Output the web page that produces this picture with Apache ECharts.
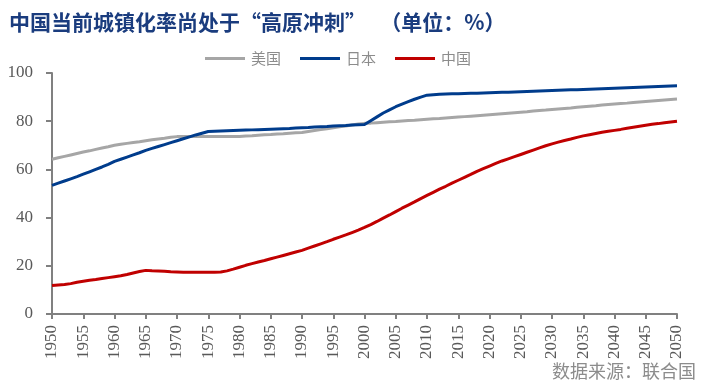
<!DOCTYPE html>
<html>
<head>
<meta charset="utf-8">
<script src="https://cdn.jsdelivr.net/npm/echarts@6/dist/echarts.min.js"></script>
<style>
html,body{margin:0;padding:0;background:#fff;}
#chart{width:701px;height:388px;}
</style>
</head>
<body>
<div id="chart"></div>
<script>
// Years 1950..2050
var years = [];
for (var yr = 1950; yr <= 2050; yr++) years.push(yr);

var usa = [
64.2,64.8,65.4,66.0,66.6,67.2,67.7,68.3,68.9,69.4,
70.0,70.4,70.8,71.2,71.5,71.9,72.3,72.6,72.9,73.3,
73.6,73.6,73.6,73.6,73.7,73.7,73.7,73.7,73.7,73.7,
73.7,73.9,74.0,74.2,74.4,74.5,74.7,74.8,75.0,75.2,
75.3,75.7,76.1,76.5,76.9,77.3,77.7,78.0,78.4,78.8,
79.1,79.2,79.4,79.6,79.8,79.9,80.1,80.3,80.4,80.6,
80.8,81.0,81.1,81.3,81.5,81.7,81.9,82.1,82.3,82.5,
82.7,82.9,83.1,83.3,83.5,83.7,83.9,84.2,84.4,84.6,
84.9,85.1,85.3,85.5,85.8,86.0,86.2,86.4,86.7,86.9,
87.1,87.3,87.5,87.8,88.0,88.2,88.4,88.6,88.8,89.0,
89.2
];

var japan = [
53.4,54.3,55.2,56.1,57.0,58.0,59.0,60.0,61.0,62.1,
63.3,64.2,65.1,66.0,66.9,67.9,68.7,69.5,70.3,71.1,
71.9,72.7,73.5,74.3,75.0,75.7,75.8,75.9,76.0,76.1,
76.2,76.3,76.4,76.5,76.6,76.7,76.8,76.9,77.0,77.2,
77.3,77.4,77.6,77.7,77.8,78.0,78.1,78.2,78.4,78.5,
78.6,80.2,81.8,83.4,84.7,86.0,87.1,88.1,89.1,90.0,
90.8,91.0,91.2,91.3,91.4,91.4,91.5,91.6,91.6,91.7,
91.8,91.9,92.0,92.0,92.1,92.2,92.3,92.4,92.5,92.6,
92.7,92.8,92.9,93.0,93.1,93.2,93.3,93.4,93.5,93.6,
93.7,93.8,93.9,94.0,94.1,94.2,94.3,94.4,94.5,94.6,
94.7
];

var china = [
11.8,12.0,12.2,12.6,13.2,13.6,14.0,14.3,14.7,15.1,
15.5,15.9,16.4,17.0,17.6,18.1,17.9,17.8,17.7,17.5,
17.4,17.3,17.3,17.3,17.3,17.3,17.3,17.4,17.9,18.6,
19.4,20.2,20.9,21.6,22.2,22.9,23.6,24.3,25.0,25.7,
26.4,27.3,28.2,29.1,30.0,31.0,31.9,32.8,33.8,34.8,
35.9,37.1,38.4,39.8,41.1,42.5,43.9,45.2,46.5,47.9,
49.2,50.5,51.8,53.0,54.3,55.5,56.7,57.9,59.2,60.3,
61.4,62.5,63.5,64.4,65.3,66.2,67.1,68.0,68.9,69.8,
70.6,71.3,72.0,72.6,73.3,73.9,74.4,74.9,75.4,75.8,
76.2,76.6,77.1,77.5,77.9,78.3,78.7,79.0,79.4,79.7,
80.0
];

var seriesNames = ['美国', '日本', '中国'];
var titleText = '中国当前城镇化率尚处于“高原冲刺”   （单位：%）';
var sourceText = '数据来源：联合国';

function pairs(vals) {
  return years.map(function (y, i) { return [y, vals[i]]; });
}

var cjk = '"Noto Sans CJK SC", sans-serif';
var serif = '"Liberation Serif", "DejaVu Serif", serif';
var axisColor = '#808080';
var labelColor = '#595959';

var chart = echarts.init(document.getElementById('chart'), null, {renderer: 'canvas'});
chart.setOption({
  backgroundColor: '#ffffff',
  animation: false,
  title: {
    text: titleText,
    left: 9,
    top: 12,
    padding: 0,
    textStyle: {fontFamily: cjk, fontSize: 21, fontWeight: 'bold', color: '#1a3c7e'}
  },
  legend: {
    data: seriesNames,
    left: 205,
    top: 51,
    padding: 0,
    icon: 'rect',
    itemWidth: 40,
    itemHeight: 3,
    itemGap: 19,
    textStyle: {fontFamily: cjk, fontSize: 15, color: '#8c8c8c', padding: [0, 0, 0, 1]}
  },
  grid: {left: 52, right: 24, top: 73, bottom: 74, containLabel: false},
  xAxis: {
    type: 'value',
    min: 1950,
    max: 2050,
    interval: 5,
    splitLine: {show: false},
    axisLine: {show: true, lineStyle: {color: axisColor, width: 2}},
    axisTick: {show: true, inside: false, length: 5, lineStyle: {color: axisColor, width: 2}},
    axisLabel: {rotate: 90, margin: 11, fontFamily: serif, fontSize: 17, color: labelColor,
      formatter: function (v) { return String(v); }}
  },
  yAxis: {
    type: 'value',
    min: 0,
    max: 100,
    interval: 20,
    splitLine: {show: false},
    axisLine: {show: true, lineStyle: {color: axisColor, width: 2}},
    axisTick: {show: true, inside: false, length: 6, lineStyle: {color: axisColor, width: 2}},
    axisLabel: {margin: 19, fontFamily: serif, fontSize: 17, color: labelColor}
  },
  series: [
    {name: seriesNames[0], type: 'line', data: pairs(usa), showSymbol: false, symbol: 'none',
     lineStyle: {color: '#a6a6a6', width: 3}, itemStyle: {color: '#a6a6a6'}, z: 1},
    {name: seriesNames[1], type: 'line', data: pairs(japan), showSymbol: false, symbol: 'none',
     lineStyle: {color: '#003c8c', width: 3}, itemStyle: {color: '#003c8c'}, z: 2},
    {name: seriesNames[2], type: 'line', data: pairs(china), showSymbol: false, symbol: 'none',
     lineStyle: {color: '#c00000', width: 3}, itemStyle: {color: '#c00000'}, z: 3}
  ],
  graphic: [{
    type: 'text',
    right: 5,
    top: 362,
    style: {text: sourceText, fontFamily: cjk, fontSize: 18, fill: '#8c8c8c'}
  }]
});
</script>
</body>
</html>
